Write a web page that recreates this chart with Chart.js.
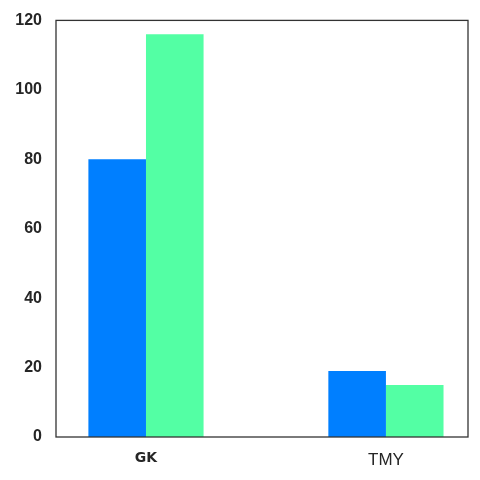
<!DOCTYPE html>
<html>
<head>
<meta charset="utf-8">
<script src="https://cdn.jsdelivr.net/npm/chart.js@4"></script>
<style>
  html, body { margin: 0; padding: 0; background: #fff; }
  #wrap { width: 480px; height: 480px; }
</style>
</head>
<body>
<div id="wrap"><canvas id="myChart"></canvas></div>
<script>
// chart data
const categories = ["GK", "TMY"];
const seriesA = [80, 19];
const seriesB = [116, 15];
const yTicks = [0, 20, 40, 60, 80, 100, 120];

// box around the plot area
const frame = {
  id: "frame",
  afterDraw(chart) {
    const a = chart.chartArea;
    const c = chart.ctx;
    c.save();
    c.strokeStyle = "#333333";
    c.lineWidth = 1.3;
    c.strokeRect(a.left, a.top, a.right - a.left, a.bottom - a.top);
    c.restore();
  },
};

const ctx = document.getElementById("myChart").getContext("2d");
const myChart = new Chart(ctx, {
  type: "bar",
  data: {
    datasets: [
      {
        label: "A",
        data: seriesA.map((v, i) => ({ x: i, y: v })),
        backgroundColor: "#007FFF",
        barPercentage: 1,
        categoryPercentage: 0.48,
      },
      {
        label: "B",
        data: seriesB.map((v, i) => ({ x: i, y: v })),
        backgroundColor: "#53FFA4",
        barPercentage: 1,
        categoryPercentage: 0.48,
      },
    ],
  },
  options: {
    responsive: true,
    maintainAspectRatio: false,
    animation: false,
    layout: { padding: { top: 19, right: 12, left: 0, bottom: 0 } },
    plugins: { legend: { display: false }, tooltip: { enabled: false } },
    scales: {
      x: {
        type: "linear",
        offset: false,
        min: -0.375,
        max: 1.342,
        grid: { display: false, drawTicks: false, offset: false },
        border: { display: false },
        afterBuildTicks: (scale) => {
          scale.ticks = categories.map((c, i) => ({ value: i }));
        },
        afterFit: (scale) => { scale.height = 43; },
        ticks: {
          padding: 13,
          color: "#262626",
          maxRotation: 0,
          callback: (v) => categories[v],
          font: (c) => c.index === 0
            ? { family: "DejaVu Sans", size: 14, weight: "bold" }
            : { family: "Liberation Sans", size: 17, weight: "normal" },
        },
      },
      y: {
        min: 0,
        max: 120,
        grid: { display: false, drawTicks: false },
        border: { display: false },
        afterBuildTicks: (scale) => {
          scale.ticks = yTicks.map((v) => ({ value: v }));
        },
        afterFit: (scale) => { scale.width = 56; },
        ticks: {
          padding: 14,
          color: "#262626",
          font: { family: "Liberation Sans", size: 16, weight: "bold", lineHeight: 0.8 },
        },
      },
    },
  },
  plugins: [frame],
});
</script>
</body>
</html>
